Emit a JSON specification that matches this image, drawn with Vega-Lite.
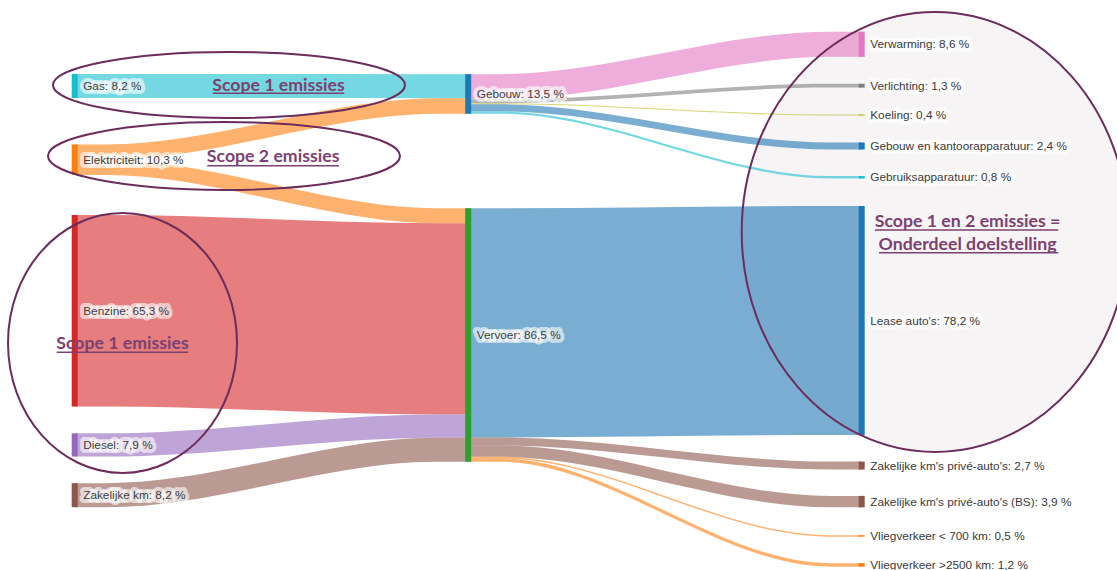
{
  "$schema": "https://vega.github.io/schema/vega-lite/v6.json",
  "width": 1117,
  "height": 570,
  "padding": 0,
  "autosize": {"type": "none"},
  "background": "white",
  "config": {"view": {"stroke": null}},
  "datasets": {
    "nodes": [
      {"node": "Gas", "stage": 0, "top": 25.26, "bottom": 33.46, "label": "Gas: 8,2 %"},
      {"node": "Elektriciteit", "stage": 0, "top": 49.3, "bottom": 59.7, "label": "Elektriciteit: 10,3 %"},
      {"node": "Benzine", "stage": 0, "top": 73.4, "bottom": 138.7, "label": "Benzine: 65,3 %"},
      {"node": "Diesel", "stage": 0, "top": 147.9, "bottom": 155.8, "label": "Diesel: 7,9 %"},
      {"node": "Zakelijke km", "stage": 0, "top": 164.9, "bottom": 173.1, "label": "Zakelijke km: 8,2 %"},
      {"node": "Gebouw", "stage": 1, "top": 25.3, "bottom": 38.8, "label": "Gebouw: 13,5 %"},
      {"node": "Vervoer", "stage": 1, "top": 71.1, "bottom": 157.6, "label": "Vervoer: 86,5 %"},
      {"node": "Verwarming", "stage": 2, "top": 10.8, "bottom": 19.4, "label": "Verwarming: 8,6 %"},
      {"node": "Verlichting", "stage": 2, "top": 28.6, "bottom": 29.9, "label": "Verlichting: 1,3 %"},
      {"node": "Koeling", "stage": 2, "top": 39.05, "bottom": 39.45, "label": "Koeling: 0,4 %"},
      {"node": "Gebouw en kantoorapparatuur", "stage": 2, "top": 48.63, "bottom": 51.03, "label": "Gebouw en kantoorapparatuur: 2,4 %"},
      {"node": "Gebruiksapparatuur", "stage": 2, "top": 60.1, "bottom": 60.9, "label": "Gebruiksapparatuur: 0,8 %"},
      {"node": "Lease auto's", "stage": 2, "top": 70.3, "bottom": 148.5, "label": "Lease auto's: 78,2 %"},
      {"node": "Zakelijke km's privé-auto's", "stage": 2, "top": 157.55, "bottom": 160.25, "label": "Zakelijke km's privé-auto's: 2,7 %"},
      {"node": "Zakelijke km's privé-auto's (BS)", "stage": 2, "top": 169.25, "bottom": 173.15, "label": "Zakelijke km's privé-auto's (BS): 3,9 %"},
      {"node": "Vliegverkeer < 700 km", "stage": 2, "top": 182.65, "bottom": 183.15, "label": "Vliegverkeer < 700 km: 0,5 %"},
      {"node": "Vliegverkeer >2500 km", "stage": 2, "top": 192.2, "bottom": 193.4, "label": "Vliegverkeer >2500 km: 1,2 %"}
    ],
    "linkpts": [
      {"link": "L1", "kleur": "Gas", "x": 0, "top": 25.26, "bottom": 33.46},
      {"link": "L1", "kleur": "Gas", "x": 0.08, "top": 25.26, "bottom": 33.46},
      {"link": "L1", "kleur": "Gas", "x": 0.92, "top": 25.3, "bottom": 33.5},
      {"link": "L1", "kleur": "Gas", "x": 1, "top": 25.3, "bottom": 33.5},
      {"link": "L2", "kleur": "Elektriciteit", "x": 0, "top": 49.3, "bottom": 54.6},
      {"link": "L2", "kleur": "Elektriciteit", "x": 0.08, "top": 49.3, "bottom": 54.6},
      {"link": "L2", "kleur": "Elektriciteit", "x": 0.92, "top": 33.5, "bottom": 38.8},
      {"link": "L2", "kleur": "Elektriciteit", "x": 1, "top": 33.5, "bottom": 38.8},
      {"link": "L3", "kleur": "Elektriciteit", "x": 0, "top": 54.6, "bottom": 59.7},
      {"link": "L3", "kleur": "Elektriciteit", "x": 0.08, "top": 54.6, "bottom": 59.7},
      {"link": "L3", "kleur": "Elektriciteit", "x": 0.92, "top": 71.1, "bottom": 76.2},
      {"link": "L3", "kleur": "Elektriciteit", "x": 1, "top": 71.1, "bottom": 76.2},
      {"link": "L4", "kleur": "Benzine", "x": 0, "top": 73.4, "bottom": 138.7},
      {"link": "L4", "kleur": "Benzine", "x": 0.08, "top": 73.4, "bottom": 138.7},
      {"link": "L4", "kleur": "Benzine", "x": 0.92, "top": 76.2, "bottom": 141.5},
      {"link": "L4", "kleur": "Benzine", "x": 1, "top": 76.2, "bottom": 141.5},
      {"link": "L5", "kleur": "Diesel", "x": 0, "top": 147.9, "bottom": 155.8},
      {"link": "L5", "kleur": "Diesel", "x": 0.08, "top": 147.9, "bottom": 155.8},
      {"link": "L5", "kleur": "Diesel", "x": 0.92, "top": 141.5, "bottom": 149.4},
      {"link": "L5", "kleur": "Diesel", "x": 1, "top": 141.5, "bottom": 149.4},
      {"link": "L6", "kleur": "Zakelijke km", "x": 0, "top": 164.9, "bottom": 173.1},
      {"link": "L6", "kleur": "Zakelijke km", "x": 0.08, "top": 164.9, "bottom": 173.1},
      {"link": "L6", "kleur": "Zakelijke km", "x": 0.92, "top": 149.4, "bottom": 157.6},
      {"link": "L6", "kleur": "Zakelijke km", "x": 1, "top": 149.4, "bottom": 157.6},
      {"link": "L7", "kleur": "Verwarming", "x": 1, "top": 25.3, "bottom": 33.9},
      {"link": "L7", "kleur": "Verwarming", "x": 1.08, "top": 25.3, "bottom": 33.9},
      {"link": "L7", "kleur": "Verwarming", "x": 1.92, "top": 10.8, "bottom": 19.4},
      {"link": "L7", "kleur": "Verwarming", "x": 2, "top": 10.8, "bottom": 19.4},
      {"link": "L8", "kleur": "Verlichting", "x": 1, "top": 33.9, "bottom": 35.2},
      {"link": "L8", "kleur": "Verlichting", "x": 1.08, "top": 33.9, "bottom": 35.2},
      {"link": "L8", "kleur": "Verlichting", "x": 1.92, "top": 28.6, "bottom": 29.9},
      {"link": "L8", "kleur": "Verlichting", "x": 2, "top": 28.6, "bottom": 29.9},
      {"link": "L9", "kleur": "Koeling", "x": 1, "top": 35.2, "bottom": 35.6},
      {"link": "L9", "kleur": "Koeling", "x": 1.08, "top": 35.2, "bottom": 35.6},
      {"link": "L9", "kleur": "Koeling", "x": 1.92, "top": 39.05, "bottom": 39.45},
      {"link": "L9", "kleur": "Koeling", "x": 2, "top": 39.05, "bottom": 39.45},
      {"link": "L10", "kleur": "Gebouw en kantoorapparatuur", "x": 1, "top": 35.6, "bottom": 38.0},
      {"link": "L10", "kleur": "Gebouw en kantoorapparatuur", "x": 1.08, "top": 35.6, "bottom": 38.0},
      {"link": "L10", "kleur": "Gebouw en kantoorapparatuur", "x": 1.92, "top": 48.63, "bottom": 51.03},
      {"link": "L10", "kleur": "Gebouw en kantoorapparatuur", "x": 2, "top": 48.63, "bottom": 51.03},
      {"link": "L11", "kleur": "Gebruiksapparatuur", "x": 1, "top": 38.0, "bottom": 38.8},
      {"link": "L11", "kleur": "Gebruiksapparatuur", "x": 1.08, "top": 38.0, "bottom": 38.8},
      {"link": "L11", "kleur": "Gebruiksapparatuur", "x": 1.92, "top": 60.1, "bottom": 60.9},
      {"link": "L11", "kleur": "Gebruiksapparatuur", "x": 2, "top": 60.1, "bottom": 60.9},
      {"link": "L12", "kleur": "Lease auto's", "x": 1, "top": 71.1, "bottom": 149.3},
      {"link": "L12", "kleur": "Lease auto's", "x": 1.08, "top": 71.1, "bottom": 149.3},
      {"link": "L12", "kleur": "Lease auto's", "x": 1.92, "top": 70.3, "bottom": 148.5},
      {"link": "L12", "kleur": "Lease auto's", "x": 2, "top": 70.3, "bottom": 148.5},
      {"link": "L13", "kleur": "Zakelijke km's privé-auto's", "x": 1, "top": 149.3, "bottom": 152.0},
      {"link": "L13", "kleur": "Zakelijke km's privé-auto's", "x": 1.08, "top": 149.3, "bottom": 152.0},
      {"link": "L13", "kleur": "Zakelijke km's privé-auto's", "x": 1.92, "top": 157.55, "bottom": 160.25},
      {"link": "L13", "kleur": "Zakelijke km's privé-auto's", "x": 2, "top": 157.55, "bottom": 160.25},
      {"link": "L14", "kleur": "Zakelijke km's privé-auto's (BS)", "x": 1, "top": 152.0, "bottom": 155.9},
      {"link": "L14", "kleur": "Zakelijke km's privé-auto's (BS)", "x": 1.08, "top": 152.0, "bottom": 155.9},
      {"link": "L14", "kleur": "Zakelijke km's privé-auto's (BS)", "x": 1.92, "top": 169.25, "bottom": 173.15},
      {"link": "L14", "kleur": "Zakelijke km's privé-auto's (BS)", "x": 2, "top": 169.25, "bottom": 173.15},
      {"link": "L15", "kleur": "Vliegverkeer < 700 km", "x": 1, "top": 155.9, "bottom": 156.4},
      {"link": "L15", "kleur": "Vliegverkeer < 700 km", "x": 1.08, "top": 155.9, "bottom": 156.4},
      {"link": "L15", "kleur": "Vliegverkeer < 700 km", "x": 1.92, "top": 182.65, "bottom": 183.15},
      {"link": "L15", "kleur": "Vliegverkeer < 700 km", "x": 2, "top": 182.65, "bottom": 183.15},
      {"link": "L16", "kleur": "Vliegverkeer >2500 km", "x": 1, "top": 156.4, "bottom": 157.6},
      {"link": "L16", "kleur": "Vliegverkeer >2500 km", "x": 1.08, "top": 156.4, "bottom": 157.6},
      {"link": "L16", "kleur": "Vliegverkeer >2500 km", "x": 1.92, "top": 192.2, "bottom": 193.4},
      {"link": "L16", "kleur": "Vliegverkeer >2500 km", "x": 2, "top": 192.2, "bottom": 193.4}
    ],
    "ellipses": [
      {"id": "e1", "x": 0.3921, "y": 29.01},
      {"id": "e2", "x": 0.3794, "y": 53.24},
      {"id": "e3", "x": 0.1215, "y": 117.06},
      {"id": "e4", "x": 2.1863, "y": 79.18}
    ],
    "notes": [
      {"tekst": "Scope 1 emissies", "x": 0.5179, "y": 30.96, "x0": 0.3507, "x1": 0.6851, "u": 31.84},
      {"tekst": "Scope 2 emissies", "x": 0.5043, "y": 55.39, "x0": 0.3370, "x1": 0.6717, "u": 56.55},
      {"tekst": "Scope 1 emissies", "x": 0.1215, "y": 119.22, "x0": -0.0457, "x1": 0.2887, "u": 120.24},
      {"tekst": "Scope 1 en 2 emissies =", "x": 2.2689, "y": 77.37, "x0": 2.0338, "x1": 2.4996, "u": 78.5},
      {"tekst": "Onderdeel doelstelling", "x": 2.2689, "y": 85.32, "x0": 2.0440, "x1": 2.4996, "u": 86.25}
    ]
  },
  "layer": [
    {
      "data": {"name": "ellipses"},
      "transform": [{"filter": "datum.id === 'e4'"}],
      "mark": {"type": "point", "shape": "M-1,0A1,1.138,0,1,0,1,0A1,1.138,0,1,0,-1,0Z", "size": 149460, "filled": true, "fill": "#f7f4f6", "strokeWidth": 0, "opacity": 1},
      "encoding": {
        "x": {"field": "x", "type": "quantitative", "scale": {"domain": [-0.18983, 2.64879], "nice": false, "zero": false}, "axis": null},
        "y": {"field": "y", "type": "quantitative", "scale": {"domain": [0, 194.54], "nice": false, "zero": false, "reverse": true}, "axis": null}
      }
    },
    {
      "data": {"name": "linkpts"},
      "mark": {"type": "area", "interpolate": "monotone", "fillOpacity": 0.6, "orient": "vertical"},
      "encoding": {
        "x": {"field": "x", "type": "quantitative", "scale": {"domain": [-0.18983, 2.64879], "nice": false, "zero": false}, "axis": null},
        "y": {"field": "top", "type": "quantitative", "scale": {"domain": [0, 194.54], "nice": false, "zero": false, "reverse": true}, "axis": null},
        "y2": {"field": "bottom"},
        "detail": {"field": "link", "type": "nominal"},
        "fill": {
          "field": "kleur", "type": "nominal", "legend": null,
          "scale": {
            "domain": ["Gas", "Elektriciteit", "Benzine", "Diesel", "Zakelijke km", "Gebouw", "Vervoer", "Verwarming", "Verlichting", "Koeling", "Gebouw en kantoorapparatuur", "Gebruiksapparatuur", "Lease auto's", "Zakelijke km's privé-auto's", "Zakelijke km's privé-auto's (BS)", "Vliegverkeer < 700 km", "Vliegverkeer >2500 km"],
            "range": ["#17becf", "#ff7f0e", "#d62728", "#9467bd", "#8c564b", "#1f77b4", "#2ca02c", "#e377c2", "#7f7f7f", "#bcbd22", "#1f77b4", "#17becf", "#1f77b4", "#8c564b", "#8c564b", "#ff7f0e", "#ff7f0e"]
          }
        }
      }
    },
    {
      "data": {"name": "nodes"},
      "mark": {"type": "rule", "strokeWidth": 6, "strokeCap": "butt"},
      "encoding": {
        "x": {"field": "stage", "type": "quantitative", "scale": {"domain": [-0.18983, 2.64879], "nice": false, "zero": false}, "axis": null},
        "y": {"field": "top", "type": "quantitative", "scale": {"domain": [0, 194.54], "nice": false, "zero": false, "reverse": true}, "axis": null},
        "y2": {"field": "bottom"},
        "color": {
          "field": "node", "type": "nominal", "legend": null,
          "scale": {
            "domain": ["Gas", "Elektriciteit", "Benzine", "Diesel", "Zakelijke km", "Gebouw", "Vervoer", "Verwarming", "Verlichting", "Koeling", "Gebouw en kantoorapparatuur", "Gebruiksapparatuur", "Lease auto's", "Zakelijke km's privé-auto's", "Zakelijke km's privé-auto's (BS)", "Vliegverkeer < 700 km", "Vliegverkeer >2500 km"],
            "range": ["#17becf", "#ff7f0e", "#d62728", "#9467bd", "#8c564b", "#1f77b4", "#2ca02c", "#e377c2", "#7f7f7f", "#bcbd22", "#1f77b4", "#17becf", "#1f77b4", "#8c564b", "#8c564b", "#ff7f0e", "#ff7f0e"]
          }
        }
      }
    },
    {
      "data": {"name": "nodes"},
      "transform": [
        {"fold": ["top", "bottom"], "as": ["edge", "pos"]},
        {"aggregate": [{"op": "mean", "field": "pos", "as": "mid"}], "groupby": ["node", "stage", "label"]}
      ],
      "mark": {"type": "text", "align": "left", "baseline": "middle", "dx": 8.5, "font": "Liberation Sans", "fontSize": 11.8, "fill": "white", "fillOpacity": 0.6, "stroke": "white", "strokeWidth": 8, "strokeOpacity": 0.6, "strokeJoin": "round"},
      "encoding": {
        "x": {"field": "stage", "type": "quantitative", "scale": {"domain": [-0.18983, 2.64879], "nice": false, "zero": false}, "axis": null},
        "y": {"field": "mid", "type": "quantitative", "scale": {"domain": [0, 194.54], "nice": false, "zero": false, "reverse": true}, "axis": null},
        "text": {"field": "label"}
      }
    },
    {
      "data": {"name": "nodes"},
      "transform": [
        {"fold": ["top", "bottom"], "as": ["edge", "pos"]},
        {"aggregate": [{"op": "mean", "field": "pos", "as": "mid"}], "groupby": ["node", "stage", "label"]}
      ],
      "mark": {"type": "text", "align": "left", "baseline": "middle", "dx": 8.5, "font": "Liberation Sans", "fontSize": 11.8, "fill": "#3a3a3a"},
      "encoding": {
        "x": {"field": "stage", "type": "quantitative", "scale": {"domain": [-0.18983, 2.64879], "nice": false, "zero": false}, "axis": null},
        "y": {"field": "mid", "type": "quantitative", "scale": {"domain": [0, 194.54], "nice": false, "zero": false, "reverse": true}, "axis": null},
        "text": {"field": "label"}
      }
    },
    {
      "data": {"name": "ellipses"},
      "transform": [{"filter": "datum.id === 'e1'"}],
      "mark": {"type": "point", "shape": "M-1,0A1,0.1875,0,1,0,1,0A1,0.1875,0,1,0,-1,0Z", "size": 123904, "filled": false, "stroke": "#6c2c5c", "strokeWidth": 2, "opacity": 1},
      "encoding": {
        "x": {"field": "x", "type": "quantitative", "scale": {"domain": [-0.18983, 2.64879], "nice": false, "zero": false}, "axis": null},
        "y": {"field": "y", "type": "quantitative", "scale": {"domain": [0, 194.54], "nice": false, "zero": false, "reverse": true}, "axis": null}
      }
    },
    {
      "data": {"name": "ellipses"},
      "transform": [{"filter": "datum.id === 'e2'"}],
      "mark": {"type": "point", "shape": "M-1,0A1,0.193,0,1,0,1,0A1,0.193,0,1,0,-1,0Z", "size": 123904, "filled": false, "stroke": "#6c2c5c", "strokeWidth": 2, "opacity": 1},
      "encoding": {
        "x": {"field": "x", "type": "quantitative", "scale": {"domain": [-0.18983, 2.64879], "nice": false, "zero": false}, "axis": null},
        "y": {"field": "y", "type": "quantitative", "scale": {"domain": [0, 194.54], "nice": false, "zero": false, "reverse": true}, "axis": null}
      }
    },
    {
      "data": {"name": "ellipses"},
      "transform": [{"filter": "datum.id === 'e3'"}],
      "mark": {"type": "point", "shape": "M-1,0A1,1.135,0,1,0,1,0A1,1.135,0,1,0,-1,0Z", "size": 52441, "filled": false, "stroke": "#6c2c5c", "strokeWidth": 2, "opacity": 1},
      "encoding": {
        "x": {"field": "x", "type": "quantitative", "scale": {"domain": [-0.18983, 2.64879], "nice": false, "zero": false}, "axis": null},
        "y": {"field": "y", "type": "quantitative", "scale": {"domain": [0, 194.54], "nice": false, "zero": false, "reverse": true}, "axis": null}
      }
    },
    {
      "data": {"name": "ellipses"},
      "transform": [{"filter": "datum.id === 'e4'"}],
      "mark": {"type": "point", "shape": "M-1,0A1,1.138,0,1,0,1,0A1,1.138,0,1,0,-1,0Z", "size": 149460, "filled": false, "stroke": "#6c2c5c", "strokeWidth": 2, "opacity": 1},
      "encoding": {
        "x": {"field": "x", "type": "quantitative", "scale": {"domain": [-0.18983, 2.64879], "nice": false, "zero": false}, "axis": null},
        "y": {"field": "y", "type": "quantitative", "scale": {"domain": [0, 194.54], "nice": false, "zero": false, "reverse": true}, "axis": null}
      }
    },
    {
      "data": {"name": "notes"},
      "mark": {"type": "text", "align": "center", "baseline": "alphabetic", "font": "Lato", "fontWeight": "bold", "fontSize": 17.7, "fill": "#7d4170"},
      "encoding": {
        "x": {"field": "x", "type": "quantitative", "scale": {"domain": [-0.18983, 2.64879], "nice": false, "zero": false}, "axis": null},
        "y": {"field": "y", "type": "quantitative", "scale": {"domain": [0, 194.54], "nice": false, "zero": false, "reverse": true}, "axis": null},
        "text": {"field": "tekst"}
      }
    },
    {
      "data": {"name": "notes"},
      "mark": {"type": "rule", "strokeWidth": 1.5, "color": "#7d4170"},
      "encoding": {
        "x": {"field": "x0", "type": "quantitative", "scale": {"domain": [-0.18983, 2.64879], "nice": false, "zero": false}, "axis": null},
        "x2": {"field": "x1"},
        "y": {"field": "u", "type": "quantitative", "scale": {"domain": [0, 194.54], "nice": false, "zero": false, "reverse": true}, "axis": null}
      }
    }
  ]
}
